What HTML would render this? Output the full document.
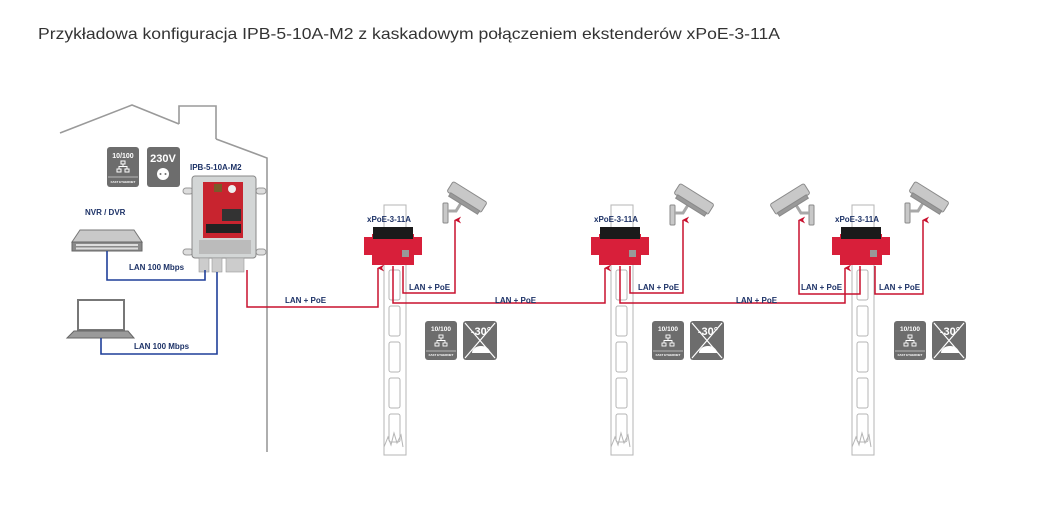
<!DOCTYPE html>
<html><head><meta charset="utf-8"><style>
html,body{margin:0;padding:0;background:#fff;width:1053px;height:508px;overflow:hidden}
svg{display:block}
.t{font-family:"Liberation Sans",sans-serif;font-weight:bold;font-size:8px;fill:#1d3267}
.ic{font-family:"Liberation Sans",sans-serif;font-weight:bold;fill:#fff}
</style></head><body>
<svg width="1053" height="508" viewBox="0 0 1053 508" xmlns="http://www.w3.org/2000/svg">
<defs>
<marker id="a" viewBox="0 0 10 10" refX="5" refY="1" markerWidth="4.5" markerHeight="4.5" orient="auto-start-reverse"><path d="M0,10 L5,0 L10,10 L5,7 Z" fill="#c8102e"/></marker>
</defs>
<text x="38" y="39" font-family="Liberation Sans, sans-serif" font-size="16" fill="#333" textLength="742" lengthAdjust="spacingAndGlyphs">Przykładowa konfiguracja IPB-5-10A-M2 z kaskadowym połączeniem ekstenderów xPoE-3-11A</text>

<!-- house -->
<g fill="none" stroke="#9a9a9a" stroke-width="1.6">
<polyline points="60,133 132,105 179,124"/>
<polyline points="179,124 179,106 216,106 216,139"/>
<polyline points="216,139 267,158 267,452"/>
</g>

<!-- top icons -->
<rect x="107" y="147" width="32" height="40" rx="3" fill="#6d6d6d"/>
<text x="123" y="158" class="ic" font-size="7" text-anchor="middle">10/100</text>
<g stroke="#fff" stroke-width="1" fill="none"><rect x="121" y="161" width="4" height="3"/><rect x="117" y="169" width="4" height="3"/><rect x="125" y="169" width="4" height="3"/><path d="M123,164v2.5M119,169v-2.5h8v2.5"/></g>
<line x1="108" y1="177" x2="138" y2="177" stroke="#fff" stroke-width=".6"/>
<text x="123" y="183" class="ic" font-size="3" text-anchor="middle">FAST ETHERNET</text>
<rect x="147" y="147" width="33" height="40" rx="3" fill="#6d6d6d"/>
<text x="163" y="162" class="ic" font-size="11" text-anchor="middle">230V</text>
<circle cx="163" cy="174" r="6" fill="#fff"/><circle cx="160.5" cy="174" r="1" fill="#6d6d6d"/><circle cx="165.5" cy="174" r="1" fill="#6d6d6d"/>

<!-- IPB -->
<text x="190" y="170" class="t" font-size="9">IPB-5-10A-M2</text>
<rect x="183" y="188" width="10" height="6" rx="3" fill="#ddd" stroke="#999"/>
<rect x="256" y="188" width="10" height="6" rx="3" fill="#ddd" stroke="#999"/>
<rect x="183" y="249" width="10" height="6" rx="3" fill="#ddd" stroke="#999"/>
<rect x="256" y="249" width="10" height="6" rx="3" fill="#ddd" stroke="#999"/>
<rect x="192" y="176" width="64" height="82" rx="3" fill="#d3d6d6" stroke="#888"/>
<rect x="203" y="182" width="40" height="56" fill="#c8242f"/>
<rect x="206" y="224" width="35" height="9" fill="#222"/>
<rect x="222" y="209" width="19" height="12" fill="#333"/>
<rect x="214" y="184" width="8" height="8" fill="#7a5a2a"/>
<circle cx="232" cy="189" r="4" fill="#eee"/>
<rect x="199" y="240" width="52" height="14" fill="#bbb"/>
<g fill="#ccc" stroke="#999" stroke-width=".6"><rect x="199" y="258" width="10" height="14"/><rect x="212" y="258" width="10" height="14"/><rect x="226" y="258" width="18" height="14"/></g>

<!-- NVR -->
<text x="85" y="215" class="t">NVR / DVR</text>
<path d="M80,230 L134,230 L142,242 L72,242 Z" fill="#c9c9c9" stroke="#777"/>
<rect x="72" y="242" width="70" height="9" fill="#8a8a8a" stroke="#666"/>
<g fill="#ddd"><rect x="76" y="244" width="62" height="2"/><rect x="76" y="247.5" width="62" height="2"/></g>
<!-- laptop -->
<rect x="78" y="300" width="46" height="30" fill="#fff" stroke="#777" stroke-width="2"/>
<path d="M74,331 L128,331 L134,338 L67,338 Z" fill="#9a9a9a" stroke="#666"/>

<!-- blue lines -->
<g fill="none" stroke="#1f3f99" stroke-width="1.6">
<polyline points="107,251 107,280 205,280 205,270"/>
<polyline points="101,338 101,354 217,354 217,272"/>
</g>
<text x="129" y="270" class="t">LAN 100 Mbps</text>
<text x="134" y="349" class="t">LAN 100 Mbps</text>

<!-- poles -->
<g fill="none" stroke="#b5b5b5" stroke-width="1">
<g><path d="M384,205 h22 v250 h-22 Z"/><rect x="389" y="270" width="11" height="30" rx="2"/><rect x="389" y="306" width="11" height="30" rx="2"/><rect x="389" y="342" width="11" height="30" rx="2"/><rect x="389" y="378" width="11" height="30" rx="2"/><rect x="389" y="414" width="11" height="28" rx="2"/><path d="M384,447 l4,-10 3,8 3,-12 3,10 4,-8 2,12"/></g>
<g transform="translate(227,0)"><path d="M384,205 h22 v250 h-22 Z"/><rect x="389" y="270" width="11" height="30" rx="2"/><rect x="389" y="306" width="11" height="30" rx="2"/><rect x="389" y="342" width="11" height="30" rx="2"/><rect x="389" y="378" width="11" height="30" rx="2"/><rect x="389" y="414" width="11" height="28" rx="2"/><path d="M384,447 l4,-10 3,8 3,-12 3,10 4,-8 2,12"/></g>
<g transform="translate(468,0)"><path d="M384,205 h22 v250 h-22 Z"/><rect x="389" y="270" width="11" height="30" rx="2"/><rect x="389" y="306" width="11" height="30" rx="2"/><rect x="389" y="342" width="11" height="30" rx="2"/><rect x="389" y="378" width="11" height="30" rx="2"/><rect x="389" y="414" width="11" height="28" rx="2"/><path d="M384,447 l4,-10 3,8 3,-12 3,10 4,-8 2,12"/></g>
</g>

<!-- cameras -->
<g fill="#c8c8c8" stroke="#8a8a8a" stroke-width="1">
<g transform="translate(443,183)">
<rect x="0" y="20" width="5" height="20" rx="1"/><path d="M5,28 h8 l5,-8" fill="none" stroke-width="3" stroke="#a8a8a8"/>
<g transform="rotate(32 24 14)"><rect x="4" y="8" width="40" height="12" rx="2"/><rect x="8" y="19" width="34" height="4" fill="#999"/></g>
</g>
<g transform="translate(670,185)">
<rect x="0" y="20" width="5" height="20" rx="1"/><path d="M5,28 h8 l5,-8" fill="none" stroke-width="3" stroke="#a8a8a8"/>
<g transform="rotate(32 24 14)"><rect x="4" y="8" width="40" height="12" rx="2"/><rect x="8" y="19" width="34" height="4" fill="#999"/></g>
</g>
<g transform="translate(905,183)">
<rect x="0" y="20" width="5" height="20" rx="1"/><path d="M5,28 h8 l5,-8" fill="none" stroke-width="3" stroke="#a8a8a8"/>
<g transform="rotate(32 24 14)"><rect x="4" y="8" width="40" height="12" rx="2"/><rect x="8" y="19" width="34" height="4" fill="#999"/></g>
</g>
<g transform="translate(814,185) scale(-1,1)">
<rect x="0" y="20" width="5" height="20" rx="1"/><path d="M5,28 h8 l5,-8" fill="none" stroke-width="3" stroke="#a8a8a8"/>
<g transform="rotate(32 24 14)"><rect x="4" y="8" width="40" height="12" rx="2"/><rect x="8" y="19" width="34" height="4" fill="#999"/></g>
</g>
</g>

<!-- xPoE devices -->
<g>
<text x="367" y="222" class="t" font-size="9">xPoE-3-11A</text>
<rect x="364" y="237" width="10" height="18" fill="#d81f3a"/><rect x="412" y="237" width="10" height="18" fill="#d81f3a"/>
<rect x="372" y="234" width="42" height="31" fill="#d81f3a"/>
<rect x="373" y="227" width="40" height="12" fill="#1a1a1a"/>
<rect x="402" y="250" width="7" height="7" fill="#999"/>
</g>
<g transform="translate(227,0)">
<text x="367" y="222" class="t" font-size="9">xPoE-3-11A</text>
<rect x="364" y="237" width="10" height="18" fill="#d81f3a"/><rect x="412" y="237" width="10" height="18" fill="#d81f3a"/>
<rect x="372" y="234" width="42" height="31" fill="#d81f3a"/>
<rect x="373" y="227" width="40" height="12" fill="#1a1a1a"/>
<rect x="402" y="250" width="7" height="7" fill="#999"/>
</g>
<g transform="translate(468,0)">
<text x="367" y="222" class="t" font-size="9">xPoE-3-11A</text>
<rect x="364" y="237" width="10" height="18" fill="#d81f3a"/><rect x="412" y="237" width="10" height="18" fill="#d81f3a"/>
<rect x="372" y="234" width="42" height="31" fill="#d81f3a"/>
<rect x="373" y="227" width="40" height="12" fill="#1a1a1a"/>
<rect x="402" y="250" width="7" height="7" fill="#999"/>
</g>

<!-- red lines -->
<g fill="none" stroke="#c8102e" stroke-width="1.5" marker-end="url(#a)">
<polyline points="247,270 247,307 378,307 378,268"/>
<polyline points="393,266 393,303 605,303 605,268"/>
<polyline points="403,266 403,293 455,293 455,220"/>
<polyline points="620,266 620,303 845,303 845,268"/>
<polyline points="630,266 630,293 683,293 683,220"/>
<polyline points="860,266 860,294 799,294 799,220"/>
<polyline points="875,266 875,294 923,294 923,220"/>
</g>
<text x="285" y="303" class="t">LAN + PoE</text>
<text x="409" y="290" class="t">LAN + PoE</text>
<text x="495" y="303" class="t">LAN + PoE</text>
<text x="638" y="290" class="t">LAN + PoE</text>
<text x="736" y="303" class="t">LAN + PoE</text>
<text x="801" y="290" class="t">LAN + PoE</text>
<text x="879" y="290" class="t">LAN + PoE</text>

<!-- bottom icons -->
<g transform="translate(425,321)">
<rect width="32" height="39" rx="3" fill="#6d6d6d"/><text x="16" y="10" class="ic" font-size="6.5" text-anchor="middle">10/100</text>
<g stroke="#fff" fill="none" stroke-width=".9"><rect x="14" y="14" width="4" height="3"/><rect x="10" y="22" width="4" height="3"/><rect x="18" y="22" width="4" height="3"/><path d="M16,17v2.5M12,22v-2.5h8v2.5"/></g>
<line x1="1" y1="30" x2="31" y2="30" stroke="#fff" stroke-width=".6"/><text x="16" y="35" class="ic" font-size="3" text-anchor="middle">FAST ETHERNET</text>
<rect x="38" width="34" height="39" rx="3" fill="#6d6d6d"/><text x="56" y="14" class="ic" font-size="11" text-anchor="middle">-30°</text>
<path d="M47,32 a9,7 0 0 1 18,0 Z" fill="#fff"/><path d="M40,2 L70,37 M70,2 L40,37" stroke="#fff" stroke-width="1.2"/>
</g>
<g transform="translate(652,321)">
<rect width="32" height="39" rx="3" fill="#6d6d6d"/><text x="16" y="10" class="ic" font-size="6.5" text-anchor="middle">10/100</text>
<g stroke="#fff" fill="none" stroke-width=".9"><rect x="14" y="14" width="4" height="3"/><rect x="10" y="22" width="4" height="3"/><rect x="18" y="22" width="4" height="3"/><path d="M16,17v2.5M12,22v-2.5h8v2.5"/></g>
<line x1="1" y1="30" x2="31" y2="30" stroke="#fff" stroke-width=".6"/><text x="16" y="35" class="ic" font-size="3" text-anchor="middle">FAST ETHERNET</text>
<rect x="38" width="34" height="39" rx="3" fill="#6d6d6d"/><text x="56" y="14" class="ic" font-size="11" text-anchor="middle">-30°</text>
<path d="M47,32 a9,7 0 0 1 18,0 Z" fill="#fff"/><path d="M40,2 L70,37 M70,2 L40,37" stroke="#fff" stroke-width="1.2"/>
</g>
<g transform="translate(894,321)">
<rect width="32" height="39" rx="3" fill="#6d6d6d"/><text x="16" y="10" class="ic" font-size="6.5" text-anchor="middle">10/100</text>
<g stroke="#fff" fill="none" stroke-width=".9"><rect x="14" y="14" width="4" height="3"/><rect x="10" y="22" width="4" height="3"/><rect x="18" y="22" width="4" height="3"/><path d="M16,17v2.5M12,22v-2.5h8v2.5"/></g>
<line x1="1" y1="30" x2="31" y2="30" stroke="#fff" stroke-width=".6"/><text x="16" y="35" class="ic" font-size="3" text-anchor="middle">FAST ETHERNET</text>
<rect x="38" width="34" height="39" rx="3" fill="#6d6d6d"/><text x="56" y="14" class="ic" font-size="11" text-anchor="middle">-30°</text>
<path d="M47,32 a9,7 0 0 1 18,0 Z" fill="#fff"/><path d="M40,2 L70,37 M70,2 L40,37" stroke="#fff" stroke-width="1.2"/>
</g>
</svg>
</body></html>
